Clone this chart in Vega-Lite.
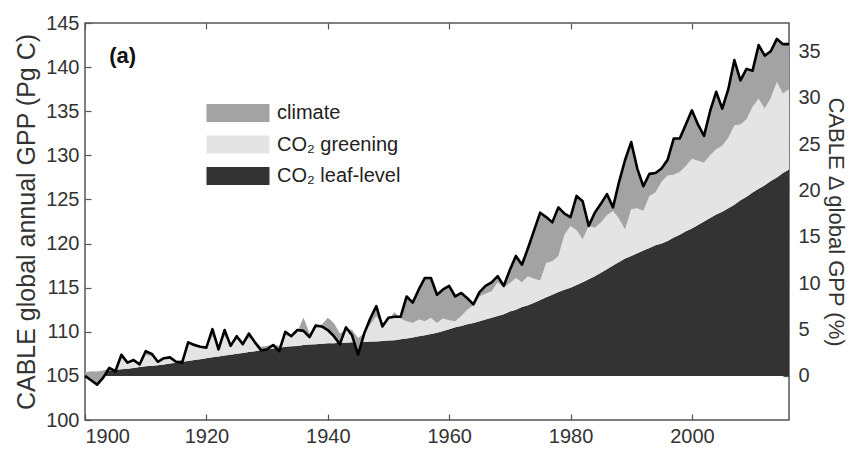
{
  "$schema": "https://vega.github.io/schema/vega-lite/v6.json",
  "width": 704,
  "height": 397,
  "autosize": "none",
  "padding": {"left": 85, "top": 23, "right": 64, "bottom": 36},
  "background": "white",
  "config": {
    "view": {"stroke": "#555555", "strokeWidth": 1.5},
    "font": "Liberation Sans",
    "axis": {
      "grid": false,
      "domainColor": "#555555",
      "domainWidth": 1.5,
      "tickColor": "#555555",
      "tickWidth": 1.2,
      "labelColor": "#333333",
      "titleColor": "#333333",
      "labelFont": "Liberation Sans",
      "titleFont": "Liberation Sans",
      "labelFontSize": 20,
      "titleFontSize": 25,
      "titleFontWeight": "normal"
    }
  },
  "datasets": {
    "gpp": [
      {"year":1900,"leaf":105.3,"green":105.4,"total":105.0},
      {"year":1901,"leaf":105.35,"green":105.5,"total":104.5},
      {"year":1902,"leaf":105.4,"green":105.5,"total":104.0},
      {"year":1903,"leaf":105.5,"green":105.6,"total":104.8},
      {"year":1904,"leaf":105.6,"green":105.8,"total":105.9},
      {"year":1905,"leaf":105.7,"green":105.8,"total":105.5},
      {"year":1906,"leaf":105.75,"green":107.0,"total":107.4},
      {"year":1907,"leaf":105.8,"green":106.4,"total":106.5},
      {"year":1908,"leaf":105.9,"green":106.6,"total":106.8},
      {"year":1909,"leaf":106.0,"green":106.3,"total":106.3},
      {"year":1910,"leaf":106.1,"green":107.4,"total":107.8},
      {"year":1911,"leaf":106.15,"green":107.2,"total":107.5},
      {"year":1912,"leaf":106.2,"green":106.6,"total":106.6},
      {"year":1913,"leaf":106.3,"green":107.0,"total":107.0},
      {"year":1914,"leaf":106.4,"green":107.0,"total":107.1},
      {"year":1915,"leaf":106.5,"green":106.7,"total":106.6},
      {"year":1916,"leaf":106.6,"green":106.8,"total":106.5},
      {"year":1917,"leaf":106.7,"green":108.8,"total":108.8},
      {"year":1918,"leaf":106.8,"green":108.7,"total":108.5},
      {"year":1919,"leaf":106.9,"green":108.4,"total":108.3},
      {"year":1920,"leaf":107.0,"green":108.3,"total":108.2},
      {"year":1921,"leaf":107.1,"green":109.5,"total":110.3},
      {"year":1922,"leaf":107.2,"green":108.3,"total":108.0},
      {"year":1923,"leaf":107.3,"green":109.5,"total":110.2},
      {"year":1924,"leaf":107.4,"green":108.6,"total":108.4},
      {"year":1925,"leaf":107.5,"green":109.2,"total":109.5},
      {"year":1926,"leaf":107.6,"green":108.7,"total":108.6},
      {"year":1927,"leaf":107.7,"green":109.3,"total":109.8},
      {"year":1928,"leaf":107.8,"green":108.9,"total":108.8},
      {"year":1929,"leaf":107.9,"green":108.3,"total":107.9},
      {"year":1930,"leaf":108.0,"green":108.4,"total":108.0},
      {"year":1931,"leaf":108.1,"green":108.6,"total":108.5},
      {"year":1932,"leaf":108.2,"green":108.4,"total":107.8},
      {"year":1933,"leaf":108.3,"green":109.6,"total":110.0},
      {"year":1934,"leaf":108.35,"green":109.4,"total":109.5},
      {"year":1935,"leaf":108.4,"green":110.0,"total":110.2},
      {"year":1936,"leaf":108.5,"green":111.6,"total":110.1},
      {"year":1937,"leaf":108.55,"green":109.8,"total":109.4},
      {"year":1938,"leaf":108.6,"green":110.5,"total":110.7},
      {"year":1939,"leaf":108.65,"green":110.8,"total":110.6},
      {"year":1940,"leaf":108.7,"green":111.6,"total":110.2},
      {"year":1941,"leaf":108.7,"green":111.0,"total":109.5},
      {"year":1942,"leaf":108.75,"green":109.8,"total":108.6},
      {"year":1943,"leaf":108.75,"green":110.3,"total":110.5},
      {"year":1944,"leaf":108.8,"green":110.2,"total":109.6},
      {"year":1945,"leaf":108.8,"green":109.3,"total":107.4},
      {"year":1946,"leaf":108.85,"green":109.8,"total":109.8},
      {"year":1947,"leaf":108.9,"green":110.8,"total":111.5},
      {"year":1948,"leaf":108.9,"green":111.8,"total":112.9},
      {"year":1949,"leaf":108.95,"green":110.8,"total":110.6},
      {"year":1950,"leaf":109.0,"green":111.4,"total":111.6},
      {"year":1951,"leaf":109.05,"green":112.2,"total":111.7},
      {"year":1952,"leaf":109.15,"green":111.5,"total":111.7},
      {"year":1953,"leaf":109.25,"green":111.2,"total":114.0},
      {"year":1954,"leaf":109.35,"green":111.0,"total":113.3},
      {"year":1955,"leaf":109.5,"green":111.4,"total":114.8},
      {"year":1956,"leaf":109.6,"green":111.2,"total":116.1},
      {"year":1957,"leaf":109.75,"green":111.6,"total":116.1},
      {"year":1958,"leaf":109.9,"green":111.0,"total":114.2},
      {"year":1959,"leaf":110.1,"green":111.5,"total":114.8},
      {"year":1960,"leaf":110.3,"green":111.3,"total":115.2},
      {"year":1961,"leaf":110.5,"green":111.2,"total":114.0},
      {"year":1962,"leaf":110.65,"green":111.8,"total":114.4},
      {"year":1963,"leaf":110.85,"green":112.5,"total":113.8},
      {"year":1964,"leaf":111.0,"green":113.0,"total":113.1},
      {"year":1965,"leaf":111.2,"green":114.0,"total":114.5},
      {"year":1966,"leaf":111.4,"green":114.3,"total":115.2},
      {"year":1967,"leaf":111.6,"green":114.6,"total":115.6},
      {"year":1968,"leaf":111.8,"green":115.6,"total":116.3},
      {"year":1969,"leaf":112.0,"green":115.0,"total":115.2},
      {"year":1970,"leaf":112.3,"green":115.5,"total":117.0},
      {"year":1971,"leaf":112.5,"green":116.1,"total":118.6},
      {"year":1972,"leaf":112.8,"green":115.6,"total":117.6},
      {"year":1973,"leaf":113.0,"green":116.3,"total":119.5},
      {"year":1974,"leaf":113.3,"green":116.0,"total":121.5},
      {"year":1975,"leaf":113.6,"green":115.8,"total":123.5},
      {"year":1976,"leaf":113.9,"green":117.8,"total":123.0},
      {"year":1977,"leaf":114.2,"green":118.0,"total":122.4},
      {"year":1978,"leaf":114.5,"green":118.6,"total":124.1},
      {"year":1979,"leaf":114.75,"green":121.0,"total":123.4},
      {"year":1980,"leaf":115.0,"green":122.0,"total":123.0},
      {"year":1981,"leaf":115.3,"green":121.5,"total":125.4},
      {"year":1982,"leaf":115.6,"green":120.5,"total":124.8},
      {"year":1983,"leaf":115.95,"green":122.0,"total":122.0},
      {"year":1984,"leaf":116.3,"green":121.8,"total":123.5},
      {"year":1985,"leaf":116.7,"green":122.4,"total":124.5},
      {"year":1986,"leaf":117.1,"green":123.2,"total":125.6},
      {"year":1987,"leaf":117.5,"green":123.7,"total":124.1},
      {"year":1988,"leaf":117.9,"green":122.8,"total":127.0},
      {"year":1989,"leaf":118.3,"green":121.6,"total":129.5},
      {"year":1990,"leaf":118.6,"green":123.9,"total":131.5},
      {"year":1991,"leaf":118.9,"green":124.0,"total":128.5},
      {"year":1992,"leaf":119.2,"green":123.7,"total":126.5},
      {"year":1993,"leaf":119.5,"green":125.4,"total":127.9},
      {"year":1994,"leaf":119.8,"green":125.8,"total":128.0},
      {"year":1995,"leaf":120.0,"green":127.0,"total":128.5},
      {"year":1996,"leaf":120.3,"green":127.7,"total":129.5},
      {"year":1997,"leaf":120.7,"green":127.8,"total":131.9},
      {"year":1998,"leaf":121.0,"green":128.1,"total":131.9},
      {"year":1999,"leaf":121.4,"green":128.8,"total":133.5},
      {"year":2000,"leaf":121.7,"green":129.6,"total":135.1},
      {"year":2001,"leaf":122.1,"green":129.4,"total":133.5},
      {"year":2002,"leaf":122.5,"green":129.2,"total":132.2},
      {"year":2003,"leaf":122.9,"green":130.0,"total":135.0},
      {"year":2004,"leaf":123.3,"green":130.7,"total":137.2},
      {"year":2005,"leaf":123.6,"green":131.1,"total":135.3},
      {"year":2006,"leaf":124.0,"green":132.0,"total":137.5},
      {"year":2007,"leaf":124.4,"green":133.4,"total":140.8},
      {"year":2008,"leaf":124.9,"green":133.5,"total":138.5},
      {"year":2009,"leaf":125.3,"green":134.1,"total":139.8},
      {"year":2010,"leaf":125.8,"green":135.5,"total":139.6},
      {"year":2011,"leaf":126.2,"green":136.4,"total":142.5},
      {"year":2012,"leaf":126.6,"green":135.3,"total":141.3},
      {"year":2013,"leaf":127.1,"green":136.5,"total":141.8},
      {"year":2014,"leaf":127.5,"green":138.3,"total":143.2},
      {"year":2015,"leaf":128.0,"green":137.0,"total":142.6},
      {"year":2016,"leaf":128.4,"green":137.5,"total":142.6}
    ],
    "pct": [
      {"year": 1900, "p": 0},
      {"year": 2016, "p": 35}
    ]
  },
  "layer": [
    {
      "data": {"name": "gpp"},
      "encoding": {
        "x": {
          "field": "year",
          "type": "quantitative",
          "scale": {"domain": [1900, 2016], "nice": false, "zero": false},
          "axis": {
            "title": null,
            "values": [1900, 1920, 1940, 1960, 1980, 2000],
            "format": "d",
            "tickSize": -6,
            "labelPadding": 12,
            "domain": false
          }
        }
      },
      "layer": [
        {
          "mark": {"type": "area", "interpolate": "linear"},
          "encoding": {
            "y": {
              "field": "leaf",
              "type": "quantitative",
              "scale": {"domain": [100, 145], "nice": false, "zero": false},
              "axis": {
                "title": "CABLE global annual GPP (Pg C)",
                "values": [100, 105, 110, 115, 120, 125, 130, 135, 140, 145],
                "tickSize": -6,
                "labelPadding": 12,
                "titlePadding": 6,
                "domain": false
              }
            },
            "y2": {"datum": 105},
            "fill": {
              "datum": "CO₂ leaf-level",
              "type": "nominal",
              "scale": {
                "domain": ["climate", "CO₂ greening", "CO₂ leaf-level"],
                "range": ["#a3a3a3", "#e4e4e4", "#333333"]
              },
              "legend": {
                "title": null,
                "orient": "none",
                "legendX": 143,
                "legendY": 80,
                "padding": 0,
                "symbolType": "M-3.5,-1H3.5V1H-3.5Z",
                "symbolSize": 324,
                "symbolStrokeWidth": 0,
                "symbolOpacity": 1,
                "labelFontSize": 20,
                "labelFont": "Liberation Sans",
                "labelColor": "#222222",
                "labelOffset": 29,
                "rowPadding": 11.5
              }
            }
          }
        },
        {
          "mark": {"type": "area", "interpolate": "linear"},
          "encoding": {
            "y": {"field": "green", "type": "quantitative"},
            "y2": {"field": "leaf"},
            "fill": {"datum": "CO₂ greening", "type": "nominal"}
          }
        },
        {
          "mark": {"type": "area", "interpolate": "linear"},
          "encoding": {
            "y": {"field": "total", "type": "quantitative"},
            "y2": {"field": "green"},
            "fill": {"datum": "climate", "type": "nominal"}
          }
        },
        {
          "mark": {"type": "line", "color": "#000000", "strokeWidth": 2.6, "strokeJoin": "round"},
          "encoding": {
            "y": {"field": "total", "type": "quantitative"}
          }
        },
        {
          "transform": [{"filter": "datum.year == 1900"}],
          "mark": {"type": "text", "text": "(a)", "fontWeight": "bold", "fontSize": 22, "align": "left", "baseline": "middle", "color": "#111111", "font": "Liberation Sans"},
          "encoding": {
            "x": {"datum": 1904},
            "y": {"datum": 141.3}
          }
        }
      ]
    },
    {
      "data": {"name": "pct"},
      "mark": {"type": "point", "opacity": 0},
      "encoding": {
        "x": {
          "field": "year",
          "type": "quantitative",
          "scale": {"domain": [1900, 2016], "nice": false, "zero": false},
          "axis": {
            "orient": "top",
            "title": null,
            "labels": false,
            "values": [1900, 1920, 1940, 1960, 1980, 2000],
            "tickSize": -6,
            "domain": false
          }
        },
        "y": {
          "field": "p",
          "type": "quantitative",
          "scale": {"domain": [-4.762, 38.095], "nice": false, "zero": false},
          "axis": {
            "orient": "right",
            "title": "CABLE Δ  global GPP (%)",
            "titleFontSize": 22,
            "values": [0, 5, 10, 15, 20, 25, 30, 35],
            "tickSize": -6,
            "labelPadding": 15,
            "titlePadding": 3,
            "domain": false
          }
        }
      }
    }
  ],
  "resolve": {"scale": {"x": "independent", "y": "independent"}}
}
